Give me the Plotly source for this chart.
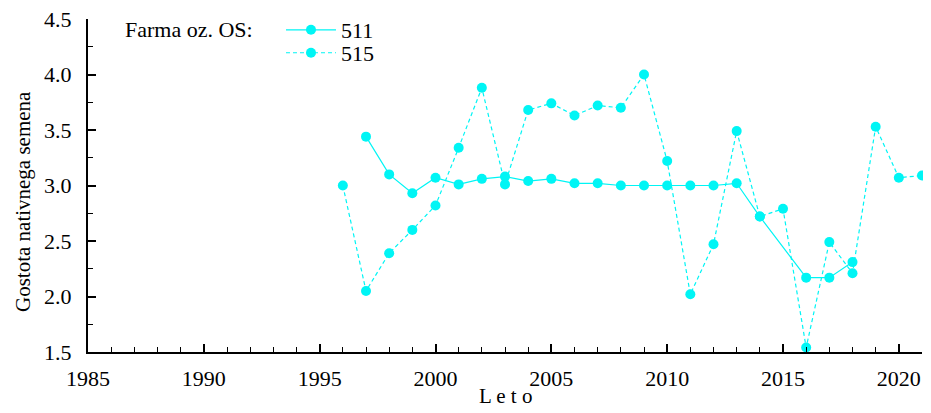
import plotly.graph_objects as go

years_511 = [1997, 1998, 1999, 2000, 2001, 2002, 2003, 2004, 2005, 2006, 2007,
             2008, 2009, 2010, 2011, 2012, 2013, 2014, 2016, 2017, 2018]
vals_511 = [3.44, 3.10, 2.93, 3.07, 3.01, 3.06, 3.08, 3.04, 3.06, 3.02, 3.02,
            3.00, 3.00, 3.00, 3.00, 3.00, 3.02, 2.72, 2.17, 2.17, 2.31]

years_515 = [1996, 1997, 1998, 1999, 2000, 2001, 2002, 2003, 2004, 2005, 2006,
             2007, 2008, 2009, 2010, 2011, 2012, 2013, 2014, 2015, 2016, 2017,
             2018, 2019, 2020, 2021]
vals_515 = [3.00, 2.05, 2.39, 2.60, 2.82, 3.34, 3.88, 3.01, 3.68, 3.74, 3.63,
            3.72, 3.70, 4.00, 3.22, 2.02, 2.47, 3.49, 2.72, 2.79, 1.54, 2.49,
            2.21, 3.53, 3.07, 3.09]

x_ticks = [1985, 1990, 1995, 2000, 2005, 2010, 2015, 2020]
y_ticks = [1.5, 2.0, 2.5, 3.0, 3.5, 4.0, 4.5]

FONT = "Liberation Serif, Times New Roman, DejaVu Serif, serif"
CYAN = "#00f5f5"
FS = 22

fig = go.Figure()
fig.add_trace(go.Scatter(
    x=years_511, y=vals_511, name="511", mode="lines+markers",
    line=dict(color=CYAN, width=1.2),
    marker=dict(color=CYAN, size=10), cliponaxis=False, legend="legend"))
fig.add_trace(go.Scatter(
    x=years_515, y=vals_515, name="515", mode="lines+markers",
    line=dict(color=CYAN, width=1.2, dash="4px,3px"),
    marker=dict(color=CYAN, size=10), cliponaxis=False, legend="legend2"))

leg_common = dict(xanchor="left", yanchor="middle", bgcolor="rgba(0,0,0,0)",
                  font=dict(family=FONT, size=FS), itemwidth=50)

fig.update_layout(
    width=923, height=405,
    margin=dict(l=80, r=9, t=11, b=61, autoexpand=False),
    paper_bgcolor="white", plot_bgcolor="white",
    font=dict(family=FONT, size=FS, color="black"),
    showlegend=True,
    legend=dict(x=0.2314, y=0.967, **leg_common),
    legend2=dict(x=0.2314, y=0.898, **leg_common),
    annotations=[
        dict(text="Farma oz. OS:", xref="paper", yref="paper",
             x=0.042, y=0.967, xanchor="left", yanchor="middle",
             showarrow=False, font=dict(family=FONT, size=FS)),
        dict(text="Gostota nativnega semena", xref="paper", yref="paper",
             x=-0.0779, y=0.4505, xanchor="center", yanchor="middle",
             textangle=-90, showarrow=False, font=dict(family=FONT, size=21)),
        dict(text="L e t o", xref="paper", yref="paper",
             x=0.5, y=-0.132, xanchor="center", yanchor="middle",
             showarrow=False, font=dict(family=FONT, size=21)),
    ],
)
fig.update_xaxes(
    range=[1985, 2021], tickvals=x_ticks, ticks="inside", ticklen=8,
    tickwidth=1.5, tickcolor="black", showline=True, linecolor="black",
    linewidth=2, showgrid=False, zeroline=False, ticklabelstandoff=6,
    automargin=False, ticklabeloverflow="allow",
    minor=dict(dtick=1, ticks="inside", ticklen=5, tickwidth=1.2,
               tickcolor="black", showgrid=False))
fig.update_yaxes(
    range=[1.5, 4.5], tickvals=y_ticks, tickformat=".1f", ticks="inside",
    ticklen=8, tickwidth=1.5, tickcolor="black", showline=True,
    linecolor="black", linewidth=2, showgrid=False, zeroline=False,
    ticklabelstandoff=10, automargin=False, ticklabeloverflow="allow",
    minor=dict(dtick=0.25, ticks="inside", ticklen=5, tickwidth=1.2,
               tickcolor="black", showgrid=False))

fig.write_html("out.html")
